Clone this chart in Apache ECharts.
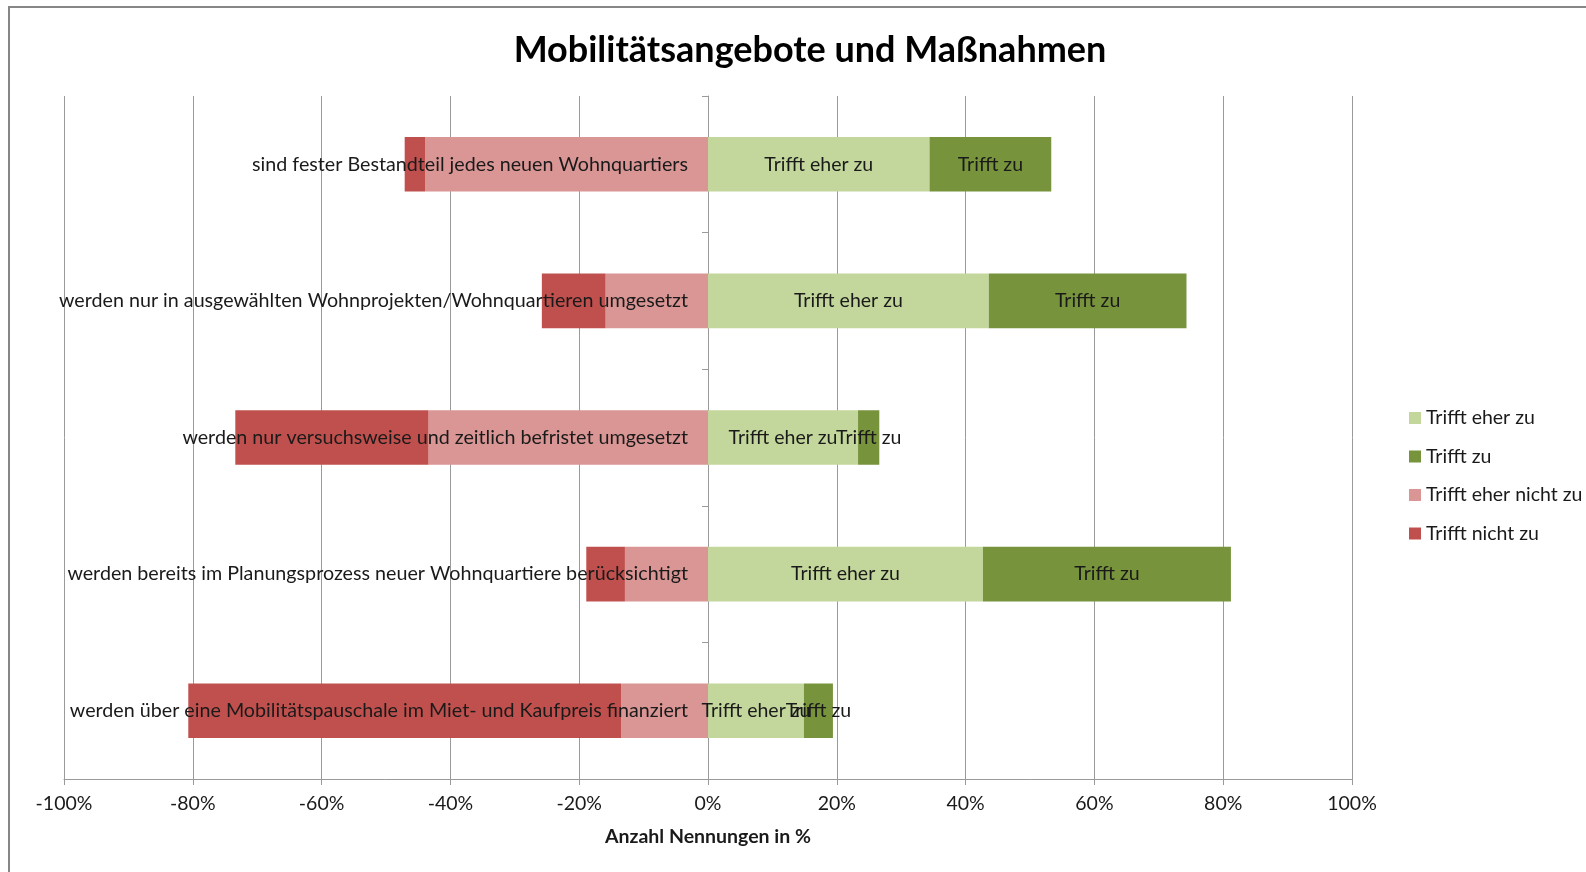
<!DOCTYPE html>
<html>
<head>
<meta charset="utf-8">
<script src="https://cdn.jsdelivr.net/npm/echarts@6/dist/echarts.min.js"></script>
<style>
  html, body { margin: 0; padding: 0; background: #fff; }
  #chart { width: 1586px; height: 872px; }
</style>
</head>
<body>
<div id="chart"></div>
<script>
// Kategorien von oben nach unten
const categories = [
  'sind fester Bestandteil jedes neuen Wohnquartiers',
  'werden nur in ausgewählten Wohnprojekten/Wohnquartieren umgesetzt',
  'werden nur versuchsweise und zeitlich befristet umgesetzt',
  'werden bereits im Planungsprozess neuer Wohnquartiere berücksichtigt',
  'werden über eine Mobilitätspauschale im Miet- und Kaufpreis finanziert'
];
const trifftEherZu = [34.4, 43.6, 23.3, 42.7, 14.9];
const trifftZu = [18.9, 30.7, 3.3, 38.5, 4.5];
const trifftEherNichtZu = [43.9, 15.9, 43.4, 12.9, 13.5];
const trifftNichtZu = [3.2, 9.9, 30.0, 6.0, 67.2];
const xTicks = [-100, -80, -60, -40, -20, 0, 20, 40, 60, 80, 100];

const FONT = 'Lato, "Open Sans", sans-serif';
const FS = 19.5;
const chart = echarts.init(document.getElementById('chart'));

const posLabel = {
  show: true,
  position: 'inside',
  formatter: (p) => p.seriesName,
  color: '#1a1a1a',
  fontFamily: FONT,
  fontSize: FS
};

chart.setOption({
  animation: false,
  backgroundColor: '#fff',
  title: {
    text: 'Mobilitätsangebote und Maßnahmen',
    left: 805,
    textAlign: 'center',
    top: 27,
    textStyle: { fontFamily: FONT, fontSize: 36, fontWeight: 'bold', color: '#000' }
  },
  graphic: [{
    type: 'polyline',
    shape: { points: [[9, 872], [9, 7], [1586, 7]] },
    style: { stroke: '#868686', lineWidth: 2, fill: null }
  }],
  legend: {
    orient: 'vertical',
    left: 1404,
    top: 403,
    itemWidth: 12,
    itemHeight: 12,
    itemGap: 18.5,
    icon: 'rect',
    textStyle: { fontFamily: FONT, fontSize: FS, color: '#1a1a1a' },
    data: ['Trifft eher zu', 'Trifft zu', 'Trifft eher nicht zu', 'Trifft nicht zu']
  },
  grid: { left: 64, right: 234, top: 96, bottom: 93, outerBoundsMode: 'none', containLabel: false },
  xAxis: {
    type: 'value',
    min: xTicks[0],
    max: xTicks[xTicks.length - 1],
    interval: 20,
    name: 'Anzahl Nennungen in %',
    nameLocation: 'middle',
    nameGap: 48,
    nameTextStyle: { fontFamily: FONT, fontSize: FS, fontWeight: 'bold', color: '#1a1a1a' },
    axisLine: { show: true, lineStyle: { color: '#9a9a9a', width: 1 } },
    axisTick: { show: true, length: 6, lineStyle: { color: '#9a9a9a' } },
    axisLabel: {
      formatter: (v) => v + '%',
      fontFamily: FONT, fontSize: FS, color: '#1a1a1a', margin: 15
    },
    splitLine: { show: true, lineStyle: { color: '#9a9a9a', width: 1 } }
  },
  yAxis: {
    type: 'category',
    data: categories,
    inverse: true,
    axisLine: { show: true, onZero: true, lineStyle: { color: '#9a9a9a' } },
    axisTick: { show: true, length: 6, lineStyle: { color: '#9a9a9a' } },
    axisLabel: { show: false }
  },
  series: [
    {
      name: 'Trifft eher zu', type: 'bar', stack: 'all', barWidth: '40%',
      itemStyle: { color: '#C3D69B' }, label: posLabel,
      data: trifftEherZu
    },
    {
      name: 'Trifft zu', type: 'bar', stack: 'all', barWidth: '40%',
      itemStyle: { color: '#77933C' }, label: posLabel,
      data: trifftZu
    },
    {
      name: 'Trifft eher nicht zu', type: 'bar', stack: 'all', barWidth: '40%',
      itemStyle: { color: '#D99694' },
      data: trifftEherNichtZu.map((v) => -v)
    },
    {
      name: 'Trifft nicht zu', type: 'bar', stack: 'all', barWidth: '40%',
      itemStyle: { color: '#C0504D' },
      data: trifftNichtZu.map((v) => -v)
    },
    {
      // Kategorienamen an der Nulllinie, wie im Original über den Balken
      name: 'kategorien', type: 'scatter', symbolSize: 0, z: 10,
      silent: true,
      itemStyle: { opacity: 1 },
      label: {
        show: true, position: 'left', distance: 20,
        formatter: (p) => categories[p.dataIndex],
        fontFamily: FONT, fontSize: 19.7, color: '#1a1a1a', opacity: 1
      },
      data: categories.map((c, i) => [0, i])
    }
  ]
});
</script>
</body>
</html>
